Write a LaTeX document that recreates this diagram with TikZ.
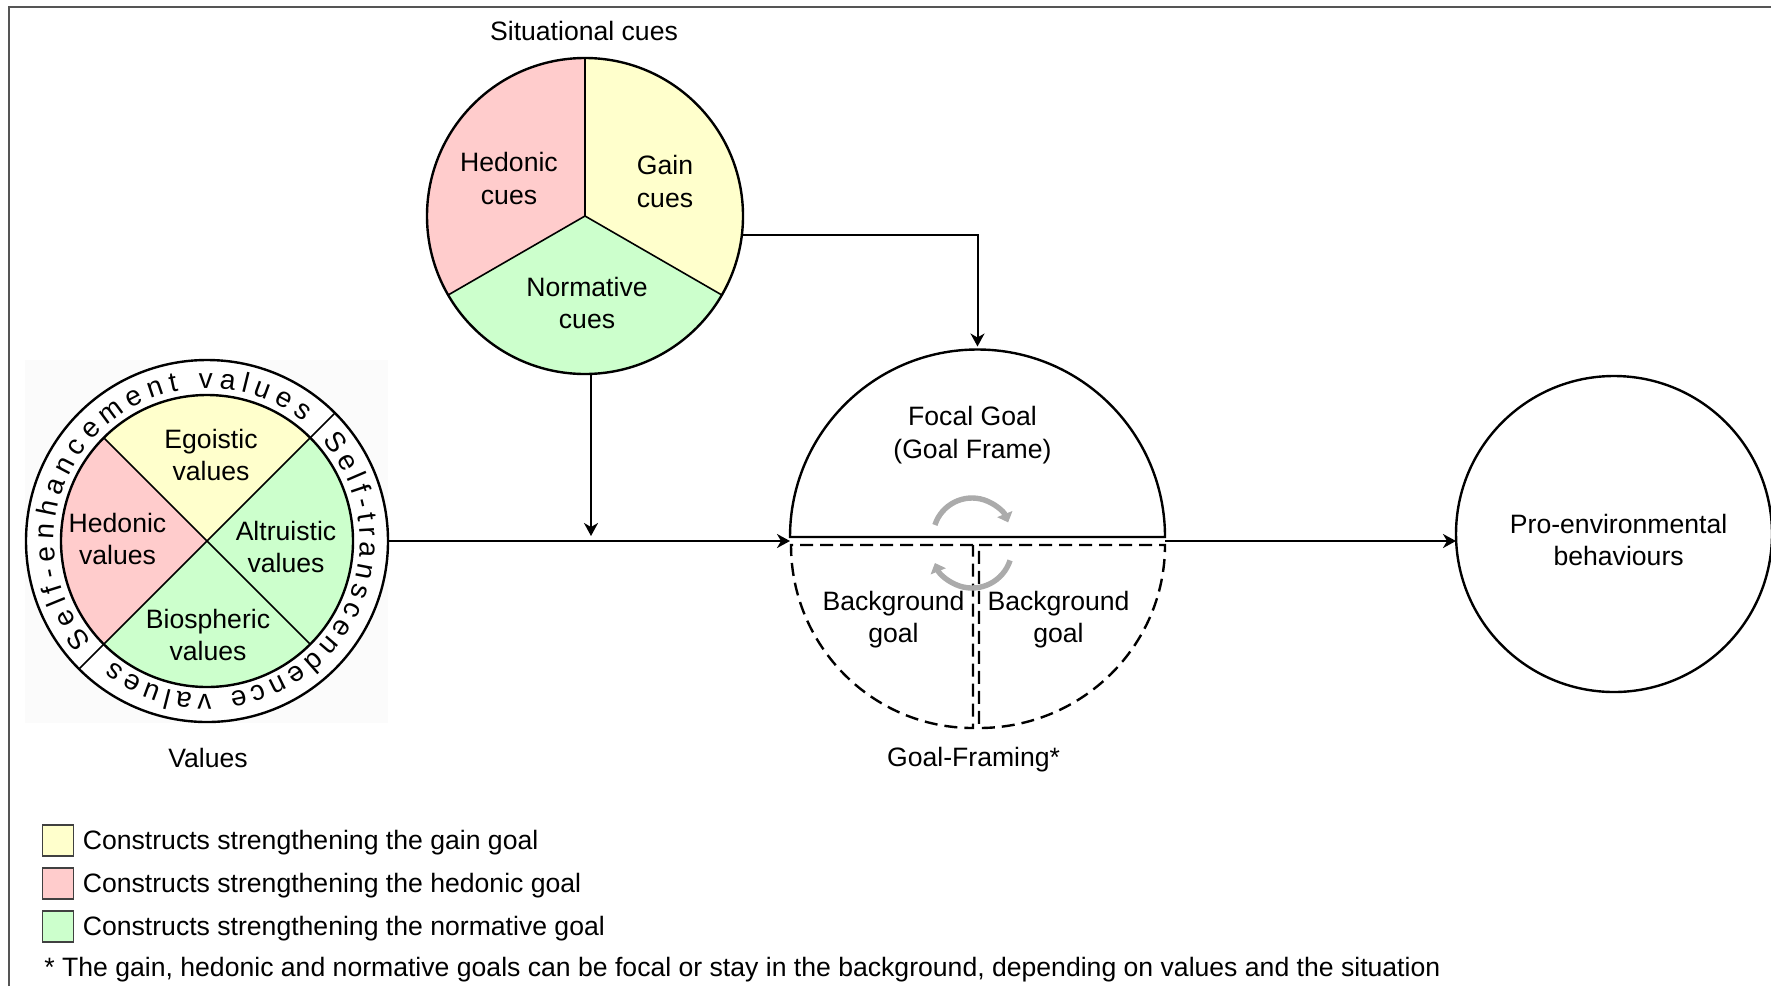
\documentclass[tikz,border=0pt]{standalone}
\usepackage{fontspec}
\setmainfont{Liberation Sans}
\usetikzlibrary{arrows.meta,decorations.text}

\definecolor{gaincol}{HTML}{FFFFCC}
\definecolor{hedoniccol}{HTML}{FFCCCC}
\definecolor{normcol}{HTML}{CCFFCC}
\definecolor{framecol}{HTML}{555555}
\definecolor{cyclecol}{HTML}{ABABAB}

\newcommand\ringsize{\fontsize{14}{16}\selectfont}

\begin{document}
\begin{tikzpicture}[x=0.5pt, y=0.5pt,
  font=\fontsize{13.3}{16.2}\selectfont,
  lbl/.style={align=center, inner sep=0pt},
  outline/.style={circle, draw, line width=1.2pt, inner sep=0pt, outer sep=0pt},
  divider/.style={line width=0.8pt},
  conn/.style={line width=1pt, -{Stealth[length=6.5pt, width=7pt, inset=2pt]}},
  bgdash/.style={line width=1.2pt, dash pattern=on 6.5pt off 3.5pt},
  cyclearrow/.style={cyclecol, line width=2.7pt, -{Triangle[length=4.5pt, width=8pt]}},
  legbox/.style={draw=black!75, line width=0.8pt, minimum size=15.5pt, inner sep=0pt},
  ringtext/.style={decorate, decoration={text along path, text align={fit to path}, text={|\ringsize|#1}}},
]
\useasboundingbox (0,0) rectangle (1771,-986);

% outer frame (top and left edges)
\draw[framecol, line width=1pt] (8.7,-986) -- (8.7,-6.7) -- (1771,-6.7);

% ---------- Situational cues pie ----------
\coordinate (S) at (585,-216);
\fill[hedoniccol] (S) -- ++(90:158) arc[start angle=90, end angle=210, radius=158] -- cycle;
\fill[normcol] (S) -- ++(210:158) arc[start angle=210, end angle=330, radius=158] -- cycle;
\fill[gaincol] (S) -- ++(330:158) arc[start angle=330, end angle=450, radius=158] -- cycle;
\draw[divider] (S) -- ++(90:158) (S) -- ++(210:158) (S) -- ++(330:158);
\node[outline, minimum size=158pt] (sit) at (S) {};
\node[lbl] (sittitle) at (584,-30.5) {Situational cues};
\node[lbl] (hcues) at (509,-178.5) {Hedonic\\cues};
\node[lbl] (gcues) at (665,-181.5) {Gain\\cues};
\node[lbl] (ncues) at (587,-303) {Normative\\cues};

% ---------- Values circle ----------
\coordinate (V) at (207,-541);
\fill[black!1.5] (25,-360) rectangle (388,-723);
\fill[white] (V) circle[radius=181];
\fill[gaincol] (V) -- ++(45:146) arc[start angle=45, end angle=135, radius=146] -- cycle;
\fill[hedoniccol] (V) -- ++(135:146) arc[start angle=135, end angle=225, radius=146] -- cycle;
\fill[normcol] (V) -- ++(225:146) arc[start angle=225, end angle=315, radius=146] -- cycle;
\fill[normcol] (V) -- ++(315:146) arc[start angle=315, end angle=405, radius=146] -- cycle;
\draw[divider] ([shift={(225:181)}]V) -- ([shift={(45:181)}]V);
\draw[divider] ([shift={(135:146)}]V) -- ([shift={(315:146)}]V);
\draw[line width=1.2pt] (V) circle[radius=146];
\node[outline, minimum size=181pt] (val) at (V) {};
\path[ringtext={Self-enhancement values}]
  ([shift={(221:153)}]V) arc[start angle=221, end angle=51, radius=153];
\path[ringtext={Self-transcendence values}]
  ([shift={(41:153)}]V) arc[start angle=41, end angle=-128, radius=153];
\node[lbl] (ego) at (211,-455) {Egoistic\\values};
\node[lbl] (hedv) at (117.5,-539) {Hedonic\\values};
\node[lbl] (alt) at (286,-547) {Altruistic\\values};
\node[lbl] (bio) at (208,-635) {Biospheric\\values};
\node[lbl] (valtitle) at (208,-758) {Values};

% ---------- Goal-framing ----------
\node[circle, minimum size=187.5pt, inner sep=0pt, outer sep=0pt] (gf) at (977.5,-537) {};
\draw[line width=1.2pt] (gf.west) arc[start angle=180, end angle=0, radius=187.5] -- cycle;
\draw[bgdash] (973,-545) -- (791,-545) arc[start angle=180, end angle=270, x radius=182, y radius=183] -- cycle;
\draw[bgdash] (979,-545) -- (1165,-545) arc[start angle=0, end angle=-90, x radius=186, y radius=183] -- cycle;
\coordinate (cu) at (972,-537);
\coordinate (cl) at (972,-548);
\draw[cyclearrow] ([shift={(162:39)}]cu) arc[start angle=162, end angle=22, radius=39];
\draw[cyclearrow] ([shift={(-18:40)}]cl) arc[start angle=-18, end angle=-158, radius=40];
\node[lbl] (focal) at (972.5,-435) {Focal Goal\\(Goal Frame)};
\node[lbl] (bgl) at (893.5,-619.5) {Background\\goal};
\node[lbl] (bgr) at (1058.5,-619.5) {Background\\goal};
\node[lbl] (gftitle) at (973.6,-760) {Goal-Framing*};

% ---------- Pro-environmental behaviours ----------
\node[outline, minimum size=158pt] (pro) at (1614,-534) {};
\node[lbl] (protext) at (1618.6,-540) {Pro-environmental\\behaviours};

% ---------- connectors ----------
\coordinate (drop) at (591,-536);
\draw[conn] (val.east) -- (val.east -| gf.west);
\draw[conn] (drop |- sit.south) -- (drop);
\draw[conn, shorten >=1.5pt] (sit.-7.6) -| (gf.north);
\draw[conn] (val.east -| gf.east) -- (val.east -| pro.west);

% ---------- legend ----------
\node[legbox, fill=gaincol] (lg) at (58,-840.5) {};
\node[legbox, fill=hedoniccol] (lh) at (58,-883.5) {};
\node[legbox, fill=normcol] (ln) at (58,-926.5) {};
\node[anchor=base west, inner sep=0pt] (lgt) at (82.5,-849) {Constructs strengthening the gain goal};
\node[anchor=base west, inner sep=0pt] (lht) at (82.5,-892) {Constructs strengthening the hedonic goal};
\node[anchor=base west, inner sep=0pt] (lnt) at (82.5,-935) {Constructs strengthening the normative goal};
\node[anchor=base west, inner sep=0pt] (note) at (44,-976) {* The gain, hedonic and normative goals can be focal or stay in the background, depending on values and the situation};
\end{tikzpicture}
\end{document}
